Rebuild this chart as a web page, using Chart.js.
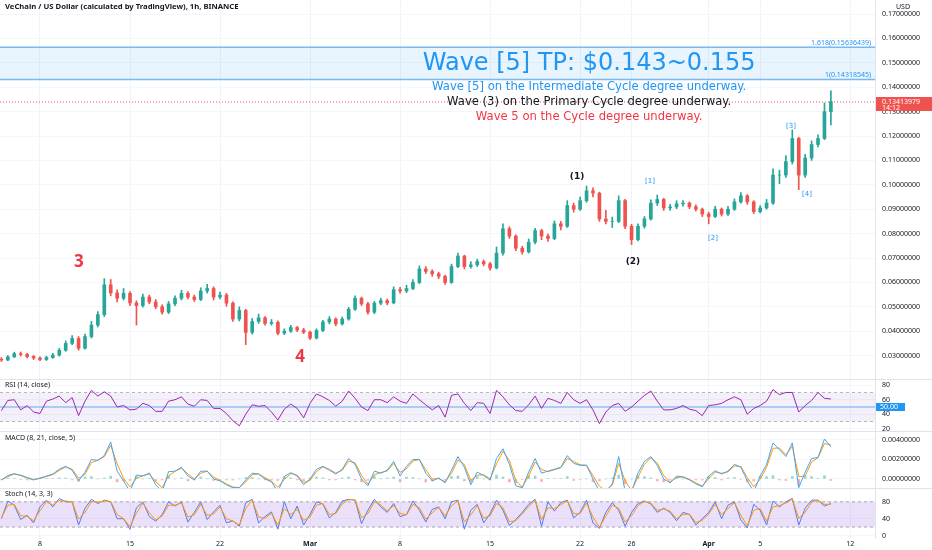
<!DOCTYPE html>
<html>
<head>
<meta charset="utf-8">
<script src="https://cdn.jsdelivr.net/npm/chart.js@4.4.1/dist/chart.umd.min.js"></script>
<style>
  html, body { margin: 0; padding: 0; background: #fff; }
  #wrap { position: relative; width: 932px; height: 550px; overflow: hidden; }
  canvas { position: absolute; left: 0; display: block; }
</style>
</head>
<body>
<div id="wrap">
  <canvas id="main" width="932" height="380" style="top:0px"></canvas>
  <canvas id="rsi" width="932" height="52" style="top:380px"></canvas>
  <canvas id="macd" width="932" height="57" style="top:432px"></canvas>
  <canvas id="stoch" width="932" height="61" style="top:489px"></canvas>
</div>
<script>
// 12h candles, first one at Feb 5 00:00; x values are days from Feb 8
const firstDay = -3;
const stepDays = 0.5;
const firstOpen = 0.0285;

const closes = [0.0282,0.0295,0.0308,0.0305,0.0296,0.0290,0.0284,0.0292,0.0302,0.0322,
  0.0350,0.0370,0.0330,0.0378,0.0425,0.0468,0.0590,0.0557,0.0535,0.0555,
  0.0516,0.0505,0.0540,0.0520,0.0500,0.0478,0.0512,0.0535,0.0555,0.0540,
  0.0530,0.0565,0.0575,0.0540,0.0548,0.0515,0.0450,0.0485,0.0395,0.0440,
  0.0455,0.0432,0.0436,0.0392,0.0400,0.0415,0.0405,0.0396,0.0372,0.0403,
  0.0438,0.0450,0.0430,0.0450,0.0490,0.0535,0.0512,0.0478,0.0515,0.0525,
  0.0516,0.0570,0.0565,0.0575,0.0600,0.0655,0.0645,0.0635,0.0625,0.0600,
  0.0665,0.0708,0.0665,0.0672,0.0685,0.0676,0.0659,0.0720,0.0820,0.0790,
  0.0740,0.0725,0.0765,0.0812,0.0790,0.0780,0.0840,0.0830,0.0915,0.0900,
  0.0935,0.0975,0.0966,0.0860,0.0850,0.0850,0.0935,0.0830,0.0775,0.0830,
  0.0860,0.0925,0.0940,0.0905,0.0909,0.0922,0.0925,0.0910,0.0900,0.0880,
  0.0870,0.0900,0.0880,0.0900,0.0930,0.0955,0.0930,0.0890,0.0905,0.0925,
  0.1040,0.1040,0.1095,0.1190,0.1040,0.1110,0.1165,0.1190,0.1300,0.1341];
const highs = [0.0292,0.0300,0.0314,0.0315,0.0309,0.0301,0.0295,0.0298,0.0309,0.0330,
  0.0360,0.0382,0.0378,0.0388,0.0440,0.0480,0.0615,0.0612,0.0570,0.0575,
  0.0562,0.0525,0.0552,0.0548,0.0530,0.0508,0.0522,0.0545,0.0568,0.0562,
  0.0548,0.0578,0.0592,0.0582,0.0560,0.0555,0.0520,0.0500,0.0490,0.0452,
  0.0470,0.0460,0.0448,0.0442,0.0410,0.0424,0.0420,0.0412,0.0400,0.0410,
  0.0445,0.0460,0.0455,0.0458,0.0498,0.0545,0.0540,0.0518,0.0522,0.0535,
  0.0532,0.0582,0.0580,0.0588,0.0612,0.0668,0.0665,0.0652,0.0642,0.0630,
  0.0675,0.0720,0.0712,0.0685,0.0695,0.0692,0.0682,0.0745,0.0840,0.0828,
  0.0795,0.0748,0.0778,0.0822,0.0818,0.0798,0.0852,0.0850,0.0935,0.0925,
  0.0950,0.0995,0.0988,0.0970,0.0895,0.0868,0.0955,0.0940,0.0838,0.0840,
  0.0870,0.0938,0.0958,0.0945,0.0920,0.0935,0.0935,0.0930,0.0918,0.0905,
  0.0888,0.0912,0.0905,0.0912,0.0942,0.0968,0.0960,0.0935,0.0915,0.0940,
  0.1065,0.1060,0.1120,0.1225,0.1195,0.1125,0.1180,0.1205,0.1335,0.1385];
const lows = [0.0276,0.0279,0.0292,0.0298,0.0290,0.0284,0.0279,0.0280,0.0288,0.0298,
  0.0318,0.0345,0.0322,0.0326,0.0372,0.0418,0.0460,0.0545,0.0520,0.0528,
  0.0505,0.0425,0.0498,0.0512,0.0492,0.0470,0.0472,0.0505,0.0528,0.0532,
  0.0522,0.0525,0.0556,0.0528,0.0532,0.0502,0.0440,0.0442,0.0345,0.0388,
  0.0432,0.0425,0.0425,0.0385,0.0386,0.0395,0.0398,0.0390,0.0365,0.0368,
  0.0398,0.0430,0.0422,0.0425,0.0445,0.0485,0.0505,0.0470,0.0472,0.0508,
  0.0508,0.0512,0.0556,0.0558,0.0570,0.0595,0.0636,0.0625,0.0615,0.0592,
  0.0596,0.0660,0.0655,0.0658,0.0665,0.0668,0.0650,0.0655,0.0712,0.0780,
  0.0730,0.0715,0.0720,0.0758,0.0775,0.0768,0.0775,0.0815,0.0825,0.0888,
  0.0895,0.0928,0.0950,0.0850,0.0840,0.0825,0.0845,0.0820,0.0755,0.0770,
  0.0822,0.0855,0.0915,0.0895,0.0895,0.0902,0.0912,0.0902,0.0892,0.0870,
  0.0840,0.0865,0.0872,0.0875,0.0895,0.0925,0.0920,0.0882,0.0885,0.0900,
  0.0920,0.1005,0.1030,0.1085,0.0980,0.1030,0.1100,0.1155,0.1185,0.1245];

const rsiValues = [45,59,60,46,52,43,41,58,61,65,56,63,38,58,73,65,71,65,50,52,
  46,47,55,52,44,44,58,60,64,54,51,60,59,48,48,41,31,24,40,53,
  51,52,43,32,47,54,48,35,55,68,64,59,51,58,72,62,50,45,60,60,
  56,64,58,55,68,60,53,46,52,36,66,68,55,45,56,55,41,73,64,53,
  45,44,53,65,48,62,59,55,70,60,55,60,46,27,43,52,55,44,50,58,
  66,72,58,46,46,48,52,47,45,38,52,53,55,60,64,60,40,48,52,58,
  74,67,70,70,43,52,59,70,62,61];

// MACD values in thousandths of a dollar
const macdMilli = [-0.1,0.35,0.55,0.35,0.1,-0.1,0.1,0.3,0.5,1.0,1.3,0.9,-0.2,0.7,2.0,1.9,2.4,3.8,0.8,-0.2,
  -1.3,0.4,0.3,0.6,-0.6,-1.3,0.75,0.8,1.2,0.3,-0.1,0.8,0.8,0.0,-0.2,-0.6,-0.9,-0.9,-0.1,0.6,
  0.5,0.0,-0.3,-1.3,0.25,0.65,0.3,-0.6,0.0,1.0,1.3,0.9,0.5,1.0,2.1,1.5,0.0,-0.7,0.8,0.6,
  0.9,1.8,0.3,1.3,2.0,2.0,0.6,-0.2,0.1,-0.4,0.9,2.3,1.2,-0.6,0.7,0.35,-0.1,2.1,3.1,1.5,
  -0.7,-0.9,0.7,2.1,0.6,0.8,1.0,1.2,2.4,1.6,1.4,1.4,0.0,-1.3,-1.3,-0.5,2.3,-1.3,-1.3,0.6,
  1.8,2.3,1.4,0.0,-0.4,0.3,0.2,-0.1,-0.5,-0.8,0.3,0.85,0.5,0.8,1.5,1.2,-0.2,-1.3,0.3,1.5,
  3.7,3.0,2.3,3.7,-0.9,0.7,2.1,2.2,4.1,3.3];
const signalMilli = [-0.1,0.24,0.5,0.4,0.16,-0.05,0.05,0.25,0.45,0.88,1.23,1.0,0.08,0.48,1.68,1.93,2.28,3.45,1.55,0.05,
  -0.8,0.05,0.33,0.53,-0.3,-0.9,0.31,0.79,1.1,0.53,0.0,0.58,0.8,0.2,-0.15,-0.5,-0.83,-0.9,-0.3,0.43,
  0.53,0.13,-0.23,-0.83,-0.06,0.55,0.39,-0.38,-0.15,0.75,1.23,1.0,0.6,0.88,1.83,1.65,0.38,-0.53,0.43,0.65,
  0.83,1.58,0.68,1.05,1.83,2.0,0.95,0.0,0.03,-0.28,0.58,1.95,1.48,-0.15,0.38,0.44,0.01,1.55,2.85,1.9,
  -0.15,-0.85,0.3,1.75,0.98,0.75,0.95,1.15,2.1,1.8,1.45,1.4,0.35,-0.75,-1.2,-0.63,1.6,-0.18,-1.2,0.2,
  1.5,2.18,1.63,0.35,-0.3,0.13,0.23,-0.03,-0.4,-0.73,0.03,0.71,0.59,0.73,1.33,1.28,0.15,-0.8,-0.03,1.2,
  3.15,3.18,2.48,3.35,0.25,0.3,1.75,2.18,3.63,3.5];
const histMilli = [-0.05,0.1,0.05,-0.05,-0.1,-0.05,0.05,0.05,0.05,0.1,0.1,-0.1,-0.25,0.2,0.25,0.0,0.1,0.3,-0.3,-0.2,
  -0.15,0.25,0.0,0.05,-0.2,-0.1,0.3,0.0,0.1,-0.2,-0.1,0.2,0.0,-0.15,-0.05,-0.1,-0.1,0.0,0.15,0.15,
  0.0,-0.1,-0.1,-0.15,0.25,0.1,-0.1,-0.2,0.1,0.2,0.1,-0.1,-0.1,0.1,0.2,-0.1,-0.3,-0.15,0.3,0.0,
  0.1,0.2,-0.3,0.2,0.15,0.0,-0.3,-0.2,0.1,-0.1,0.25,0.3,-0.2,-0.3,0.25,0.0,-0.1,0.4,0.2,-0.3,
  -0.4,-0.05,0.3,0.3,-0.25,0.05,0.05,0.05,0.25,-0.15,-0.05,0.0,-0.3,-0.2,0.0,0.1,0.4,-0.5,0.0,0.3,
  0.25,0.1,-0.2,-0.3,-0.1,0.15,0.0,-0.05,-0.1,-0.1,0.25,0.15,-0.1,0.1,0.15,-0.05,-0.3,-0.2,0.3,0.25,
  0.35,-0.1,-0.15,0.25,-0.6,0.3,0.25,0.05,0.35,-0.15];

const stochK = [40,82,72,38,48,30,68,84,68,88,80,80,25,65,86,76,84,80,40,40,
  15,66,80,45,34,50,80,70,80,32,55,80,38,56,72,30,35,22,78,86,
  30,45,56,15,80,40,70,25,50,80,75,42,55,82,86,84,28,60,86,68,
  55,76,45,50,82,60,32,62,68,40,80,84,15,60,74,30,52,84,60,24,
  38,55,74,86,22,80,58,78,84,42,55,84,30,17,55,78,60,22,55,76,
  82,75,55,65,55,35,55,50,25,40,55,80,40,72,80,37,18,74,60,25,
  82,68,80,88,25,65,84,84,70,76];
const stochD = [42,72,74,47,46,35,59,80,72,83,82,80,39,55,81,79,82,81,50,40,
  21,53,77,54,37,46,72,72,78,44,49,74,48,51,68,40,34,25,64,84,
  44,41,53,25,64,50,62,36,44,72,76,50,52,75,85,85,42,52,80,73,
  58,71,53,49,74,66,39,54,67,47,70,83,32,49,71,41,47,76,66,33,
  35,51,69,83,38,66,64,73,83,52,52,77,44,20,46,72,65,32,47,71,
  81,77,60,63,58,40,50,51,31,36,51,74,50,64,78,48,23,60,64,34,
  68,71,77,86,41,55,79,84,74,74];

const priceTicks = [0.03,0.04,0.05,0.06,0.07,0.08,0.09,0.10,0.11,0.12,0.13,0.14,0.15,0.16,0.17];
const rsiTicks = [20,40,60,80];
const macdTicks = [0,0.002,0.004];
const stochTicks = [0,40,80];
const xTickDays = [0,7,14,21,28,35,42,46,52,56,63];
const xTickLabels = ["8","15","22","Mar","8","15","22","26","Apr","5","12"];

const fibPrices = [0.15636439, 0.14318545];
const fibNames = ["1.618(0.15636439)", "1(0.14318545)"];
const lastPrice = 0.13413979;
const lastCountdown = "14:12";

const waveLabels = ["3","4","(1)","(2)","[1]","[2]","[3]","[4]"];
const waveDegree = ["cycle","cycle","primary","primary","inter","inter","inter","inter"];
const waveDays = [3.03,20.22,41.76,46.11,47.43,52.33,58.40,59.64];
const wavePrices = [0.0684,0.0294,0.1032,0.0684,0.1016,0.0782,0.1241,0.0962];

const headline = "Wave [5] TP: $0.143~0.155";
const noteLines = ["Wave [5] on the Intermediate Cycle degree underway.",
  "Wave (3) on the Primary Cycle degree underway.",
  "Wave 5 on the Cycle degree underway."];
const noteDegree = ["inter","primary","cycle"];
const noteDay = 42.7;
const notePrices = [0.1401,0.1339,0.1278];
const headlinePrice = 0.1498;

const FONT = "'Noto Sans', 'DejaVu Sans', sans-serif";
const WIDE = "'DejaVu Sans', Verdana, sans-serif";
const UP = '#26a69a', DOWN = '#ef5350';
const degreeColor = { cycle: '#f23645', primary: '#131722', inter: '#2196f3' };
const SEP = '#e0e3eb';

const candleDays = closes.map((_, i) => firstDay + i * stepDays);
const opens = closes.map((c, i) => i === 0 ? firstOpen : closes[i - 1]);
const candleColor = ctx => closes[ctx.dataIndex] >= opens[ctx.dataIndex] ? UP : DOWN;
const pts = arr => arr.map((v, i) => ({ x: candleDays[i], y: v }));

function xTickFont(ctx) {
  const label = ctx && ctx.tick ? xTickLabels[xTickDays.indexOf(ctx.tick.value)] : '';
  const isMonth = label && isNaN(+label);
  return { family: FONT, size: 7, weight: isMonth ? 'bold' : 'normal' };
}

function xScale(showLabels) {
  return {
    type: 'linear', min: -3.11, max: 64.93, offset: false,
    afterBuildTicks: s => { s.ticks = xTickDays.map(v => ({ value: v })); },
    afterFit: s => { s.height = showLabels ? 12 : 0; s.paddingLeft = 0; s.paddingRight = 0; },
    grid: { color: '#f0f3fa', drawTicks: false, offset: false },
    border: { display: false },
    ticks: {
      display: showLabels, padding: 2, autoSkip: false, maxRotation: 0, color: '#131722',
      font: xTickFont,
      callback: v => xTickLabels[xTickDays.indexOf(v)]
    }
  };
}

function yScale(min, max, ticks, fmt) {
  return {
    position: 'right', min, max, beginAtZero: false,
    afterBuildTicks: s => { s.ticks = ticks.map(v => ({ value: v })); },
    afterFit: s => { s.width = 57; s.paddingTop = 0; s.paddingBottom = 0; },
    grid: { color: '#f5f6f9', drawTicks: false },
    border: { display: true, color: SEP },
    ticks: { padding: 7, color: '#131722', font: { family: FONT, size: 7 }, callback: fmt }
  };
}

function baseOptions(yCfg, showX) {
  return {
    responsive: false, animation: false, events: [],
    layout: { padding: 0 },
    plugins: { legend: { display: false }, tooltip: { enabled: false }, title: { display: false } },
    scales: { x: xScale(showX), y: yCfg }
  };
}

function hLine(ctx, a, py, color, width, dash) {
  ctx.save();
  ctx.strokeStyle = color; ctx.lineWidth = width; ctx.setLineDash(dash || []);
  ctx.beginPath(); ctx.moveTo(a.left, py); ctx.lineTo(a.right, py); ctx.stroke();
  ctx.restore();
}

function paneText(ctx, text, x, y, font, color, align) {
  ctx.save();
  ctx.font = font; ctx.fillStyle = color; ctx.textAlign = align || 'left'; ctx.textBaseline = 'middle';
  ctx.fillText(text, x, y);
  ctx.restore();
}

function bottomSeparator(chart) {
  const ctx = chart.ctx;
  ctx.save();
  ctx.strokeStyle = SEP; ctx.lineWidth = 1;
  ctx.beginPath(); ctx.moveTo(0, chart.height - 0.5); ctx.lineTo(chart.width, chart.height - 0.5); ctx.stroke();
  ctx.restore();
}

// ---------- main price pane ----------
const mainDecor = {
  id: 'mainDecor',
  beforeDatasetsDraw(chart) {
    const { ctx, chartArea: a, scales: { y } } = chart;
    const yTop = y.getPixelForValue(fibPrices[0]);
    const yBot = y.getPixelForValue(fibPrices[1]);
    ctx.save();
    ctx.fillStyle = 'rgba(33,150,243,0.10)';
    ctx.fillRect(a.left, yTop, a.right - a.left, yBot - yTop);
    ctx.restore();
    hLine(ctx, a, yTop, '#79b8f3', 1.5);
    hLine(ctx, a, yBot, '#79b8f3', 1.5);
    hLine(ctx, a, y.getPixelForValue(lastPrice) + 0.5, '#ef5350', 1, [1, 2]);
  },
  afterDraw(chart) {
    const { ctx, chartArea: a, scales: { x, y } } = chart;
    paneText(ctx, 'VeChain / US Dollar (calculated by TradingView), 1h, BINANCE', 5, 7, `bold 7.7px ${FONT}`, '#131722');
    paneText(ctx, 'USD', 903, 7, `7px ${FONT}`, '#131722', 'center');
    fibNames.forEach((t, i) => {
      paneText(ctx, t, a.right - 4, y.getPixelForValue(fibPrices[i]) - 4, `7px ${FONT}`, '#2196f3', 'right');
    });
    paneText(ctx, headline, x.getPixelForValue(noteDay), y.getPixelForValue(headlinePrice), `24px ${WIDE}`, '#2196f3', 'center');
    noteLines.forEach((t, i) => {
      paneText(ctx, t, x.getPixelForValue(noteDay), y.getPixelForValue(notePrices[i]), `11.6px ${WIDE}`, degreeColor[noteDegree[i]], 'center');
    });
    waveLabels.forEach((t, i) => {
      const deg = waveDegree[i];
      const font = deg === 'cycle' ? `bold 17px ${FONT}` : deg === 'primary' ? `bold 9px ${WIDE}` : `7px ${WIDE}`;
      paneText(ctx, t, x.getPixelForValue(waveDays[i]), y.getPixelForValue(wavePrices[i]), font, degreeColor[deg], 'center');
    });
    // last price badge on the axis
    const py = y.getPixelForValue(lastPrice);
    ctx.save();
    ctx.fillStyle = '#ef5350';
    ctx.fillRect(a.right + 1, py - 4.5, chart.width - a.right - 1, 14);
    ctx.restore();
    paneText(ctx, lastPrice.toFixed(8), a.right + 7, py, `7px ${FONT}`, '#ffffff');
    paneText(ctx, lastCountdown, a.right + 7, py + 6.5, `7px ${FONT}`, '#ffffff');
    bottomSeparator(chart);
  }
};

new Chart(document.getElementById('main'), {
  type: 'bar',
  data: {
    datasets: [
      { data: candleDays.map((d, i) => ({ x: d, y: [lows[i], highs[i]] })), backgroundColor: candleColor, barThickness: 1, grouped: false, order: 2 },
      { data: candleDays.map((d, i) => ({ x: d, y: [opens[i], closes[i]] })), backgroundColor: candleColor, barThickness: 3, grouped: false, order: 1 }
    ]
  },
  options: baseOptions(yScale(0.0200, 0.17574, priceTicks, v => v.toFixed(8)), false),
  plugins: [mainDecor]
});

// ---------- RSI pane ----------
const rsiDecor = {
  id: 'rsiDecor',
  beforeDatasetsDraw(chart) {
    const { ctx, chartArea: a, scales: { y } } = chart;
    const y70 = y.getPixelForValue(70), y30 = y.getPixelForValue(30);
    ctx.save();
    ctx.fillStyle = 'rgba(126,87,194,0.09)';
    ctx.fillRect(a.left, y70, a.right - a.left, y30 - y70);
    ctx.restore();
    hLine(ctx, a, y70, 'rgba(120,123,134,0.55)', 1, [3, 3]);
    hLine(ctx, a, y30, 'rgba(120,123,134,0.55)', 1, [3, 3]);
    hLine(ctx, a, y.getPixelForValue(50), '#a9cdf7', 2);
  },
  afterDraw(chart) {
    const { ctx, chartArea: a, scales: { y } } = chart;
    paneText(ctx, 'RSI (14, close)', 5, 5, `7px ${FONT}`, '#131722');
    const py = y.getPixelForValue(50);
    ctx.save();
    ctx.fillStyle = '#2196f3';
    ctx.fillRect(a.right + 1, py - 4, 29, 8);
    ctx.restore();
    paneText(ctx, '50.00', a.right + 5, py, `7px ${FONT}`, '#ffffff');
    bottomSeparator(chart);
  }
};

new Chart(document.getElementById('rsi'), {
  type: 'line',
  data: { datasets: [{ data: pts(rsiValues), borderColor: '#9c27b0', borderWidth: 1, pointRadius: 0, tension: 0 }] },
  options: baseOptions(yScale(15.5, 87.2, rsiTicks, v => String(v)), false),
  plugins: [rsiDecor]
});

// ---------- MACD pane ----------
const macdDecor = {
  id: 'macdDecor',
  afterDraw(chart) {
    paneText(chart.ctx, 'MACD (8, 21, close, 5)', 5, 6, `7px ${FONT}`, '#131722');
    bottomSeparator(chart);
  }
};

new Chart(document.getElementById('macd'), {
  type: 'bar',
  data: {
    datasets: [
      { type: 'bar', data: pts(histMilli.map(v => v / 1000)), barThickness: 2, grouped: false,
        backgroundColor: ctx => histMilli[ctx.dataIndex] >= 0 ? 'rgba(38,166,154,0.45)' : 'rgba(239,83,80,0.45)', order: 3 },
      { type: 'line', data: pts(signalMilli.map(v => v / 1000)), borderColor: '#ff9800', borderWidth: 1, pointRadius: 0, tension: 0, order: 2 },
      { type: 'line', data: pts(macdMilli.map(v => v / 1000)), borderColor: '#42a5f5', borderWidth: 1, pointRadius: 0, tension: 0, order: 1 }
    ]
  },
  options: baseOptions(yScale(-0.00103, 0.00482, macdTicks, v => v.toFixed(8)), false),
  plugins: [macdDecor]
});

// ---------- Stochastic pane ----------
const stochDecor = {
  id: 'stochDecor',
  beforeDatasetsDraw(chart) {
    const { ctx, chartArea: a, scales: { y } } = chart;
    const y80 = y.getPixelForValue(80), y20 = y.getPixelForValue(20);
    ctx.save();
    ctx.fillStyle = 'rgba(156,100,230,0.20)';
    ctx.fillRect(a.left, y80, a.right - a.left, y20 - y80);
    ctx.restore();
    hLine(ctx, a, y80, 'rgba(120,123,134,0.6)', 1, [3, 3]);
    hLine(ctx, a, y20, 'rgba(120,123,134,0.6)', 1, [3, 3]);
  },
  afterDraw(chart) {
    paneText(chart.ctx, 'Stoch (14, 3, 3)', 5, 5, `7px ${FONT}`, '#131722');
  }
};

new Chart(document.getElementById('stoch'), {
  type: 'line',
  data: {
    datasets: [
      { data: pts(stochD), borderColor: '#ff9800', borderWidth: 1, pointRadius: 0, tension: 0 },
      { data: pts(stochK), borderColor: '#4d7bf3', borderWidth: 1, pointRadius: 0, tension: 0 }
    ]
  },
  options: baseOptions(yScale(-5.9, 110.5, stochTicks, v => String(v)), true),
  plugins: [stochDecor]
});
</script>
</body>
</html>
